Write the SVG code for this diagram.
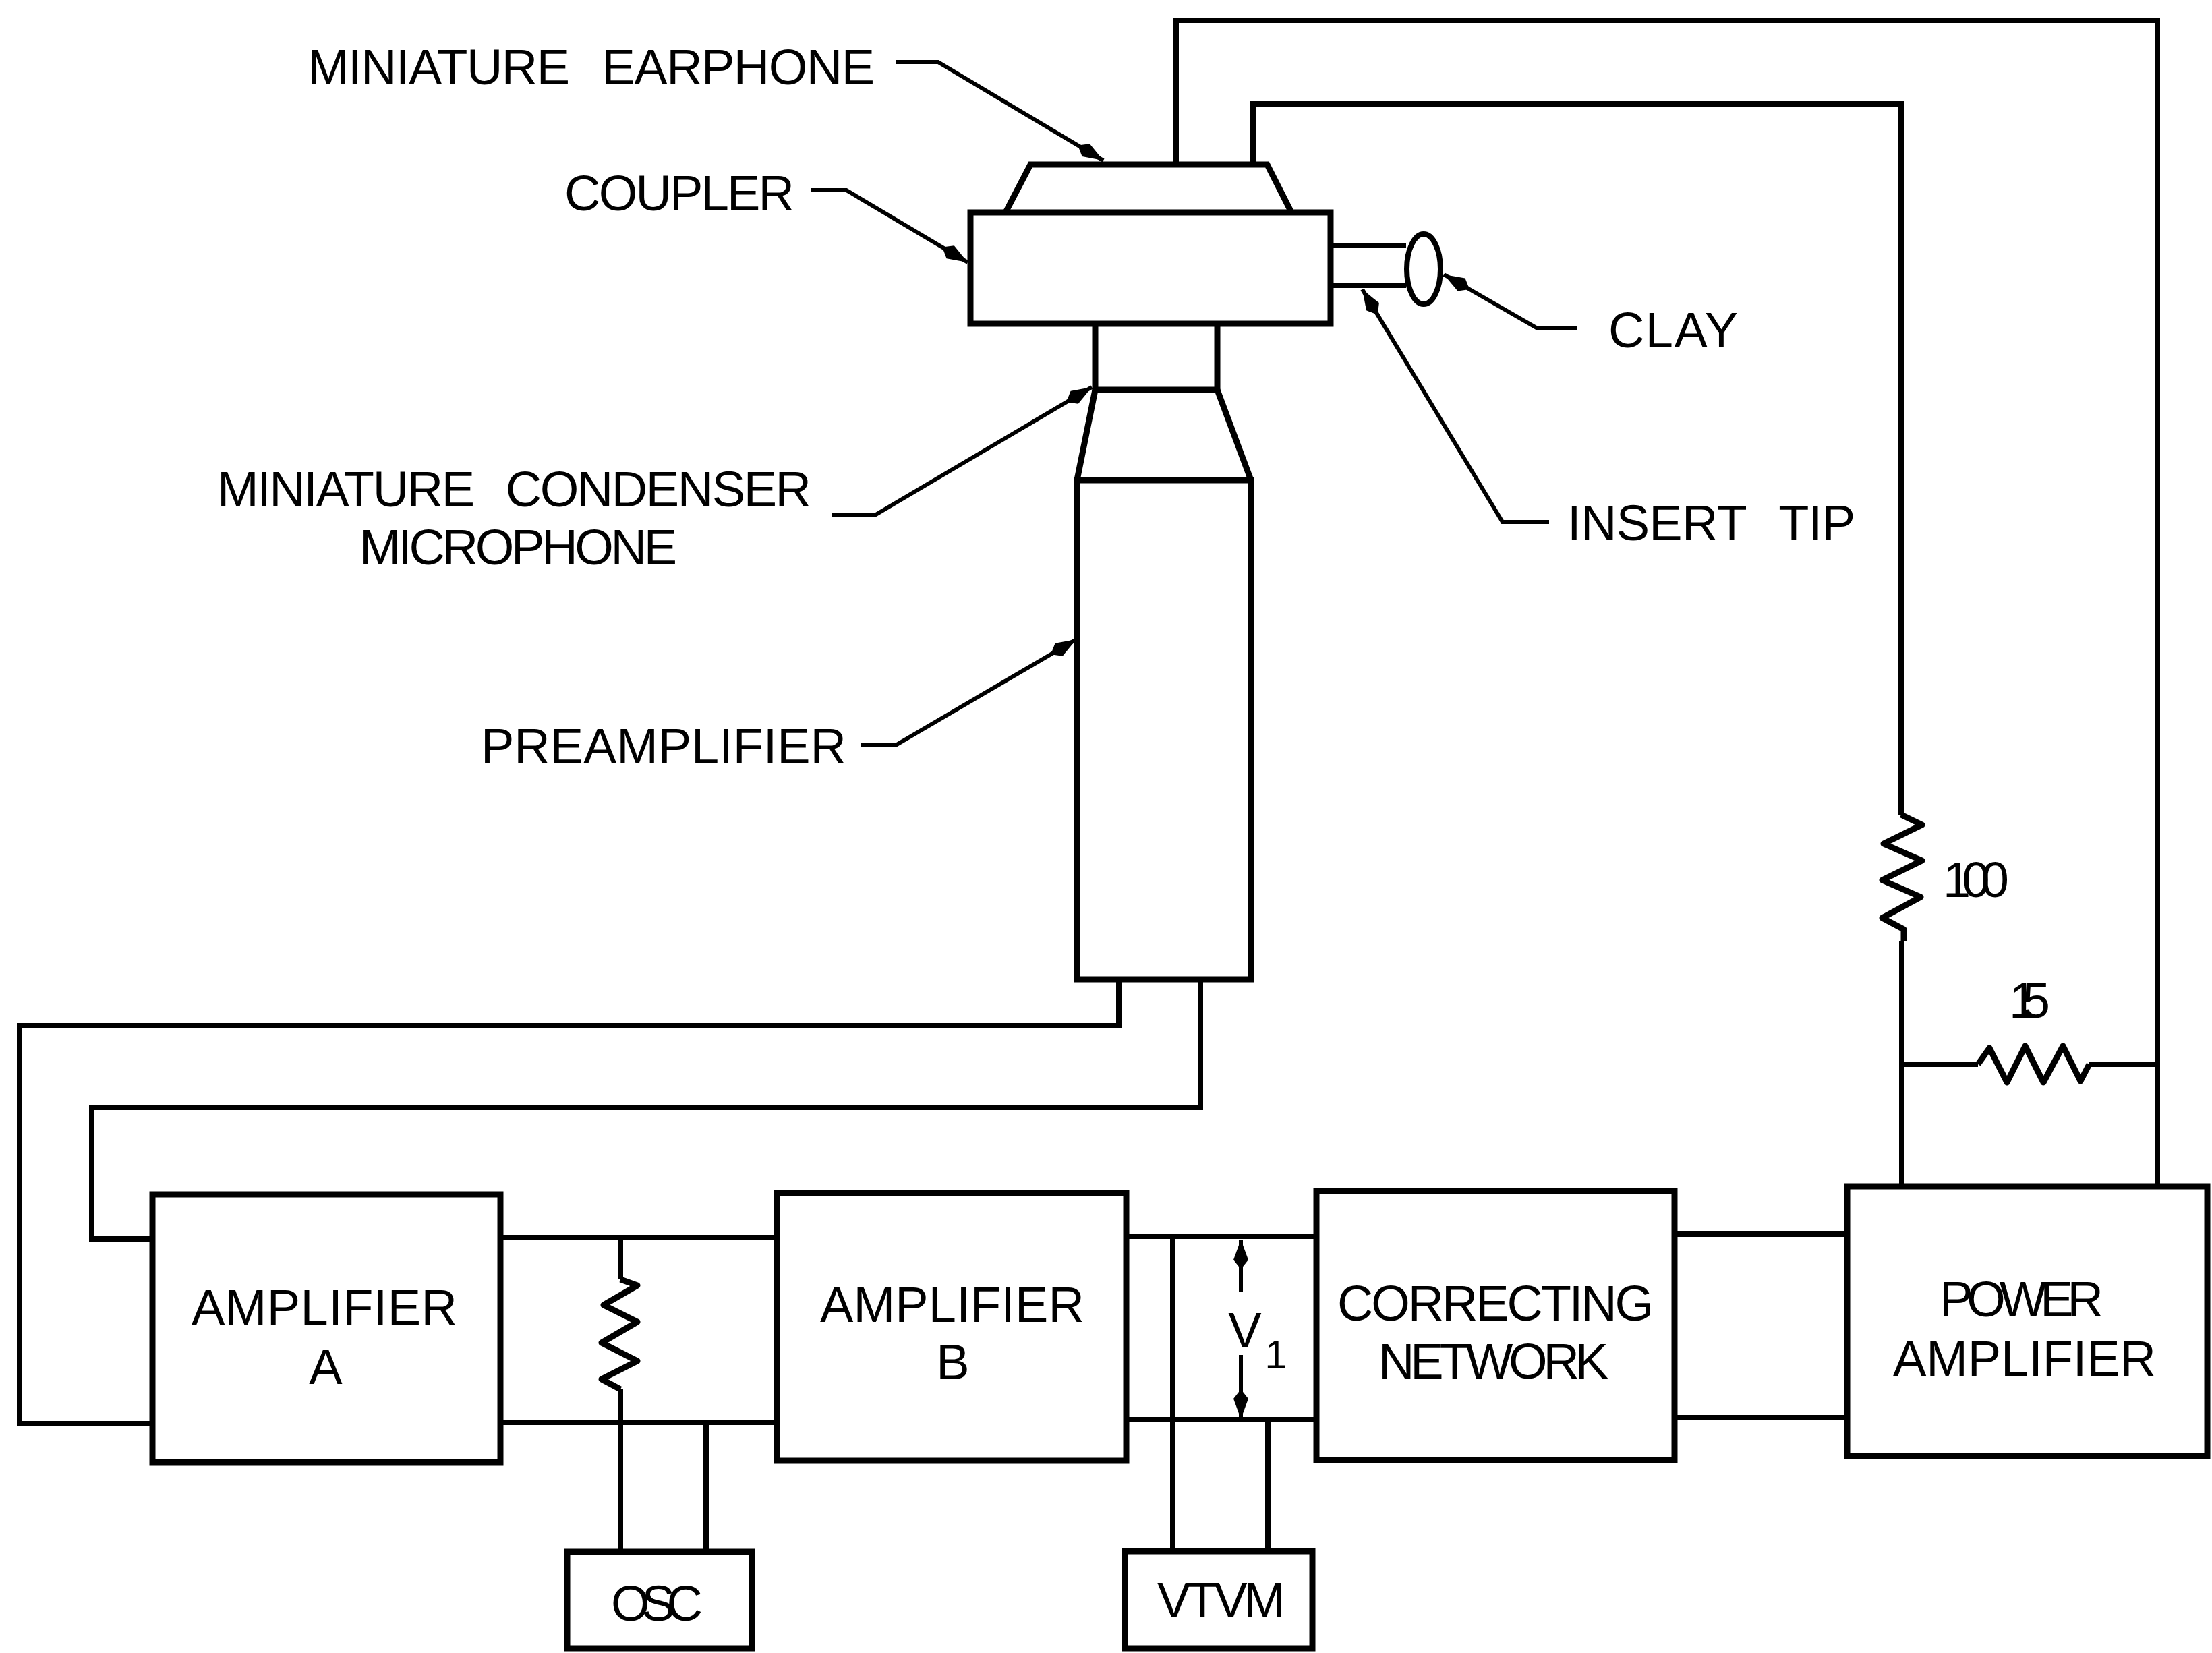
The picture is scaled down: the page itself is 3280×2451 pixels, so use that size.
<svg xmlns="http://www.w3.org/2000/svg" width="3280" height="2451" viewBox="0 0 3280 2451">
<style>
.b{fill:none;stroke:#000;stroke-width:9;stroke-linejoin:miter}
.w{fill:none;stroke:#000;stroke-width:8;stroke-linejoin:miter}
.l{fill:none;stroke:#000;stroke-width:6;marker-end:url(#ah)}
.r{fill:none;stroke:#000;stroke-width:9;stroke-linejoin:round}
text{font-family:"Liberation Sans",Arial,sans-serif;font-size:74px;fill:#000;lengthAdjust:spacing}
.m{text-anchor:middle}
</style>
<defs>
<marker id="ah" markerUnits="userSpaceOnUse" markerWidth="50" markerHeight="30" refX="44" refY="12" orient="auto">
<path d="M0 12 L14 1 L44 12 L14 23 Z" fill="#000"/>
</marker>
</defs>
<rect width="3280" height="2451" fill="#fff"/>
<g id="connectors">
<path class="w" d="M1744 244V30H3199V1759"/>
<path class="w" d="M1858 244V154H2819V1208"/>
<path class="r" d="M2819 1208L2850 1223L2793 1251L2850 1276L2791 1305L2848 1330L2791 1361L2823 1378V1395"/>
<path class="w" d="M2820 1395V1759"/>
<path class="w" d="M2819 1578H2933"/>
<path class="r" d="M2933 1578L2950 1554L2976 1605L3003 1551L3030 1605L3059 1551L3085 1603L3098 1578"/>
<path class="w" d="M3098 1578H3199"/>
<path class="w" d="M1659 1452V1521H29V2111H226"/>
<path class="w" d="M1780 1452V1642H136V1837H226"/>
<path class="w" d="M741 1835H1152"/>
<path class="w" d="M741 2109H1152"/>
<path class="w" d="M920 1835V1897"/>
<path class="r" d="M920 1897L945 1906L895 1935L945 1960L892 1991L945 2018L892 2045L920 2060"/>
<path class="w" d="M920 2060V2301"/>
<path class="w" d="M1047 2109V2301"/>
<path class="w" d="M1670 1833H1952"/>
<path class="w" d="M1670 2105H1952"/>
<path class="w" d="M1739 1833V2300"/>
<path class="w" d="M1880 2105V2300"/>
<path class="w" d="M2483 1830H2739"/>
<path class="w" d="M2483 2102H2739"/>
<path class="l" d="M1840 1915V1838"/>
<path class="l" d="M1840 2009V2104"/>
<path class="l" d="M1328 92H1391L1636 238"/>
<path class="l" d="M1203 282H1255L1435 389"/>
<path class="l" d="M1234 764H1297L1619 574"/>
<path class="l" d="M1276 1105H1328L1596 948"/>
<path class="l" d="M2339 487H2280L2141 407"/>
<path class="l" d="M2297 774H2228L2020 429"/>
</g>
<g id="earphone"><path class="b" d="M1491 315L1528 244H1879L1915 315"/></g>
<g id="coupler"><rect class="b" x="1439" y="315" width="534" height="165"/></g>
<g id="insert-tip"><path class="w" d="M1973 364H2085M1973 423H2085"/></g>
<g id="clay"><ellipse class="w" cx="2111" cy="399" rx="25" ry="52"/></g>
<g id="microphone"><path class="b" d="M1624 480V578H1805V480"/></g>
<g id="preamplifier"><path class="b" d="M1624 578L1597 712M1805 578L1855 712"/><rect class="b" x="1597" y="712" width="258" height="740"/></g>
<g id="amplifier-a"><rect class="b" x="226" y="1771" width="516" height="397"/>
<text x="284" y="1964" textLength="394">AMPLIFIER</text><text class="m" x="483" y="2052">A</text></g>
<g id="amplifier-b"><rect class="b" x="1152" y="1769" width="518" height="397"/>
<text x="1216" y="1960" textLength="392">AMPLIFIER</text><text class="m" x="1413" y="2045">B</text></g>
<g id="correcting-network"><rect class="b" x="1952" y="1766" width="531" height="399"/>
<text x="1983" y="1958" textLength="469">CORRECTING</text><text x="2044" y="2044" textLength="341">NETWORK</text></g>
<g id="power-amplifier"><rect class="b" x="2739" y="1759" width="534" height="400"/>
<text x="2876" y="1952" textLength="243">POWER</text><text x="2807" y="2040" textLength="390">AMPLIFIER</text></g>
<g id="osc"><rect class="b" x="841" y="2301" width="274" height="143"/><text x="906" y="2403" textLength="136">OSC</text></g>
<g id="vtvm"><rect class="b" x="1668" y="2300" width="278" height="144"/><text x="1716" y="2398" textLength="190">VTVM</text></g>
<g id="labels">
<text x="456" y="125" textLength="841" word-spacing="30">MINIATURE EARPHONE</text>
<text x="837" y="312" textLength="341">COUPLER</text>
<text x="322" y="751" textLength="881" word-spacing="30">MINIATURE CONDENSER</text>
<text x="533" y="837" textLength="471">MICROPHONE</text>
<text x="713" y="1132" textLength="542">PREAMPLIFIER</text>
<text x="2385" y="515" textLength="192">CLAY</text>
<text x="2324" y="801" textLength="427" word-spacing="30">INSERT TIP</text>
<text x="2881" y="1330" textLength="98">100</text>
<text x="2979" y="1509" textLength="61">15</text>
<text class="m" x="1846" y="1998">V</text>
<text class="m" x="1892" y="2029" style="font-size:60px">1</text>
</g>
</svg>
